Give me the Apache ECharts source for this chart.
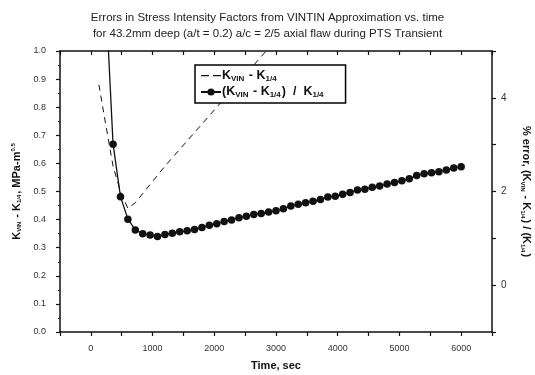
<!DOCTYPE html>
<html>
<head>
<meta charset="utf-8">
<script src="https://cdn.jsdelivr.net/npm/echarts@6/dist/echarts.min.js"></script>
<style>
  html, body { margin: 0; padding: 0; background: #fff; }
  #chart { width: 535px; height: 375px; }
</style>
</head>
<body>
<div id="chart"></div>
<script>
var myChart = echarts.init(document.getElementById('chart'));

// (K_VIN - K_1/4) / K_1/4, percent  -> right axis
var errTime = [240, 360, 480, 600, 720, 840, 960, 1080, 1200, 1320, 1440, 1560, 1680, 1800,
    1920, 2040, 2160, 2280, 2400, 2520, 2640, 2760, 2880, 3000, 3120, 3240, 3360, 3480,
    3600, 3720, 3840, 3960, 4080, 4200, 4320, 4440, 4560, 4680, 4800, 4920, 5040, 5160,
    5280, 5400, 5520, 5640, 5760, 5880, 6000];
var errPct = [6.2, 3.01, 1.89, 1.41, 1.18, 1.10, 1.07, 1.04, 1.08, 1.11, 1.14, 1.16, 1.19, 1.23,
    1.28, 1.31, 1.36, 1.39, 1.44, 1.47, 1.51, 1.53, 1.56, 1.59, 1.63, 1.69, 1.73, 1.76,
    1.79, 1.83, 1.88, 1.90, 1.94, 1.98, 2.03, 2.05, 2.09, 2.12, 2.16, 2.19, 2.23, 2.27,
    2.34, 2.38, 2.40, 2.42, 2.46, 2.50, 2.53];

// K_VIN - K_1/4, MPa-m^0.5 -> left axis
var diffTime = [130, 240, 360, 480, 600, 720, 1200, 1800, 2400, 3000];
var diffK = [0.88, 0.74, 0.59, 0.50, 0.44, 0.46, 0.59, 0.74, 0.89, 1.04];

var xTickLabels = ['0', '1000', '2000', '3000', '4000', '5000', '6000'];
var rightTickLabels = ['0', '2', '4'];

function pairs(xs, ys) {
    var res = [];
    for (var i = 0; i < xs.length; i++) res.push([xs[i], ys[i]]);
    return res;
}

var ink = '#111';
function richSet(big, small) {
    return {
        b: { fontWeight: 'bold', fontSize: big, color: ink },
        w: { fontWeight: 'bold', fontSize: big, color: ink, padding: [0, 7, 0, 7] },
        s: { fontWeight: 'bold', fontSize: small, color: ink, verticalAlign: 'bottom', padding: [Math.round(big / 2), 1, 0, 0] },
        p: { fontWeight: 'bold', fontSize: small, color: ink, verticalAlign: 'top', padding: [0, 0, Math.round(big / 2), 0] }
    };
}

option = {
    backgroundColor: '#fff',
    textStyle: { fontFamily: 'Liberation Sans, Arial, sans-serif' },
    title: {
        text: 'Errors in Stress Intensity Factors from VINTIN Approximation vs. time\nfor 43.2mm deep (a/t = 0.2) a/c = 2/5 axial flaw during PTS Transient',
        left: 'center',
        top: 5,
        textStyle: { fontSize: 11.5, fontWeight: 'normal', color: '#222', lineHeight: 16 }
    },
    legend: {
        orient: 'vertical',
        left: 195,
        top: 65,
        itemWidth: 20,
        itemHeight: 9,
        itemGap: 3,
        padding: [4, 22, 4, 5],
        borderColor: '#000',
        borderWidth: 1.5,
        backgroundColor: '#fff',
        data: [
            { name: 'diff', icon: 'path://M0,0L0,0Z M20,9L20,9Z M0,4H8V5.2H0Z M12,4H20V5.2H12Z' },
            { name: 'ratio' }
        ],
        formatter: function (name) {
            if (name === 'diff') return '{b|K}{s|VIN}{b| - K}{s|1/4}';
            return '{b|(K}{s|VIN}{b| - K}{s|1/4}{b|)}{w|/}{b|K}{s|1/4}';
        },
        textStyle: { rich: richSet(12.5, 8), padding: [0, 0, 0, -4] }
    },
    grid: { left: 60, right: 43, top: 51, bottom: 43, outerBoundsMode: 'none', containLabel: false },
    xAxis: [{
        type: 'value',
        min: -500, max: 6500, interval: 500,
        name: 'Time, sec',
        nameLocation: 'middle',
        nameGap: 28,
        nameTextStyle: { fontWeight: 'bold', fontSize: 11, color: ink },
        axisLine: { onZero: false, lineStyle: { color: ink, width: 1.5 } },
        axisTick: { length: 4, lineStyle: { color: ink, width: 1.2 } },
        axisLabel: {
            fontSize: 9, color: '#333', margin: 12,
            formatter: function (v) {
                var s = String(v);
                return xTickLabels.indexOf(s) >= 0 ? s : '';
            }
        },
        splitLine: { show: false }
    }, {
        type: 'value',
        position: 'top',
        min: -500, max: 6500, interval: 500,
        axisLine: { onZero: false, lineStyle: { color: ink, width: 1.5 } },
        axisTick: { inside: true, length: 4, lineStyle: { color: ink, width: 1.2 } },
        axisLabel: { show: false },
        splitLine: { show: false }
    }],
    yAxis: [{
        type: 'value',
        min: 0, max: 1, interval: 0.1,
        name: '{b|K}{s|VIN}{b| - K}{s|1/4}{b|, MPa-m}{p|0.5}',
        nameLocation: 'middle',
        nameGap: 33,
        nameRotate: 90,
        nameTextStyle: { rich: richSet(11, 6) },
        axisLine: { show: true, onZero: false, lineStyle: { color: ink, width: 1.5 } },
        axisTick: { length: 4, lineStyle: { color: ink, width: 1.2 } },
        minorTick: { show: true, splitNumber: 2, length: 2, lineStyle: { color: ink } },
        axisLabel: {
            fontSize: 9, color: '#333', margin: 14,
            formatter: function (v) { return v.toFixed(1); }
        },
        splitLine: { show: false }
    }, {
        type: 'value',
        position: 'right',
        min: -1, max: 5, interval: 1,
        name: '{b|% error, (K}{s|VIN}{b| - K}{s|1/4}{b|) / (K}{s|1/4}{b|)}',
        nameLocation: 'middle',
        nameGap: 28,
        nameRotate: -90,
        nameTextStyle: { rich: richSet(11, 6) },
        axisLine: { show: true, onZero: false, lineStyle: { color: ink, width: 1.5 } },
        axisTick: { length: 4, lineStyle: { color: ink, width: 1.2 } },
        axisLabel: {
            fontSize: 10, color: '#333', margin: 9,
            formatter: function (v) {
                var s = String(v);
                return rightTickLabels.indexOf(s) >= 0 ? s : '';
            }
        },
        splitLine: { show: false }
    }],
    series: [{
        name: 'diff',
        type: 'line',
        xAxisIndex: 0,
        yAxisIndex: 0,
        data: pairs(diffTime, diffK),
        showSymbol: false,
        symbol: 'none',
        clip: true,
        lineStyle: { color: ink, width: 1, type: [6, 5] },
        itemStyle: { color: ink },
        animation: false
    }, {
        name: 'ratio',
        type: 'line',
        xAxisIndex: 0,
        yAxisIndex: 1,
        data: pairs(errTime, errPct),
        symbol: 'circle',
        symbolSize: 7.5,
        clip: true,
        lineStyle: { color: ink, width: 1.3 },
        itemStyle: { color: ink },
        animation: false
    }]
};

myChart.setOption(option);
</script>
</body>
</html>
